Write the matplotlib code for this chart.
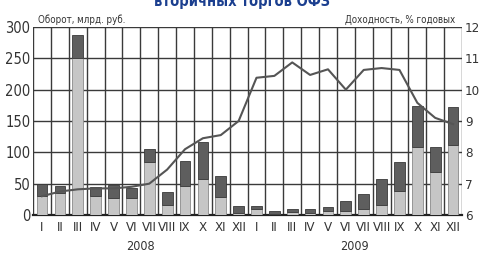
import matplotlib.pyplot as plt
import numpy as np

plt.rcParams["font.family"] = ["DejaVu Sans"]
plt.rcParams["font.stretch"] = "condensed"

months = ["I", "II", "III", "IV", "V", "VI", "VII", "VIII", "IX", "X", "XI", "XII"] * 2
# turnover, bln rub: light (lower) part and total bar height
light = [30, 35, 250, 30, 27, 27, 85, 16, 47, 57, 29, 4,
         9, 2, 5, 4, 7, 7, 9, 16, 39, 108, 68, 112]
total = [50, 46, 288, 45, 48, 43, 105, 36, 86, 117, 62, 14,
         14, 7, 9, 9, 13, 23, 34, 57, 85, 174, 109, 172]
# yield, % per annum
yield_pct = [6.6, 6.75, 6.82, 6.85, 6.85, 6.9, 7.0, 7.45, 8.1, 8.45, 8.55, 9.0,
             10.38, 10.44, 10.87, 10.47, 10.65, 10.0, 10.63, 10.69, 10.63, 9.58, 9.1, 8.9]
years = ["2008", "2009"]

C_LIGHT = "#c6c6c6"
C_DARK = "#5e5e5e"
C_GRID = "#3a3a3a"
C_LINE = "#555555"
C_TITLE = "#1b3f8f"

fig = plt.figure(figsize=(4.8, 2.54), dpi=100)
ax = fig.add_axes([0.069, 0.1535, 0.8935, 0.7402])

x = np.arange(len(months))
top = np.array(total) - np.array(light)
ax.bar(x, light, width=0.6, color=C_LIGHT, edgecolor="#8a8a8a", linewidth=0.6, zorder=3)
ax.bar(x, top, bottom=light, width=0.6, color=C_DARK, edgecolor="#3a3a3a",
       linewidth=0.6, zorder=3)

ax.set_xlim(-0.5, len(months) - 0.5)
ax.set_ylim(0, 300)
ax.set_yticks(range(0, 301, 50))
ax.set_xticks(x)
ax.set_xticklabels(months)
ax.set_xticks(np.arange(-0.5, len(months)), minor=True)
ax.grid(False)
ax.grid(which="minor", axis="x", color=C_GRID, linewidth=1.0, zorder=0)
ax.grid(which="major", axis="y", color=C_GRID, linewidth=1.0, zorder=0)
ax.tick_params(which="both", length=0, labelsize=10.5, colors="#333333", pad=2)
ax.tick_params(axis="x", labelsize=9.5, pad=4)
for s in ["top", "right", "left"]:
    ax.spines[s].set_visible(False)
ax.spines["bottom"].set_color("#222222")
ax.spines["bottom"].set_linewidth(1.6)

ax2 = ax.twinx()
ax2.plot(x, yield_pct, color=C_LINE, linewidth=1.5, zorder=4)
ax2.set_ylim(6, 12)
ax2.set_yticks(range(6, 13))
ax2.tick_params(length=0, labelsize=9.5, colors="#333333", pad=2)
for s in ax2.spines.values():
    s.set_visible(False)

ax.text(0.012, 1.01, "Оборот, млрд. руб.", transform=ax.transAxes,
        fontsize=7, color="#333333", va="bottom", ha="left")
ax.text(0.985, 1.01, "Доходность, % годовых", transform=ax.transAxes,
        fontsize=7, color="#333333", va="bottom", ha="right")

for i, yr in enumerate(years):
    ax.text(5.5 + 12 * i, -0.135, yr, transform=ax.get_xaxis_transform(),
            ha="center", va="top", fontsize=9, color="#333333")

fig.text(0.505, 0.995, "вторичных торгов ОФЗ", ha="center", va="center",
         fontsize=10.5, fontweight="bold", color=C_TITLE)

fig.savefig("out.png", dpi=100)
